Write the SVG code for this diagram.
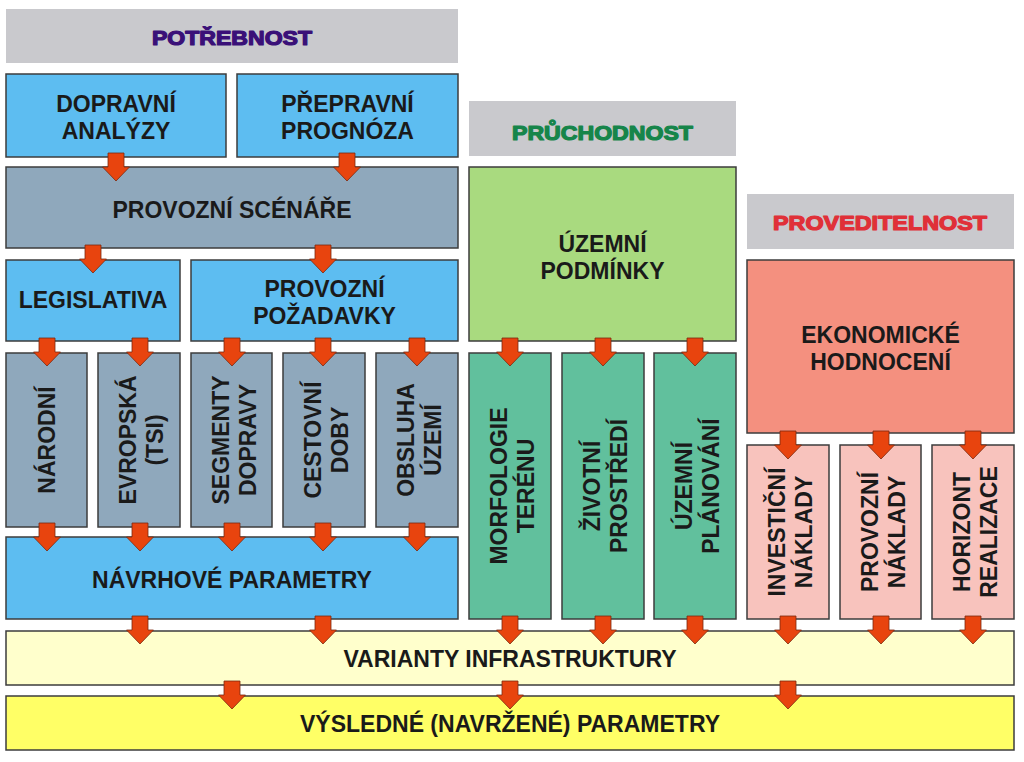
<svg xmlns="http://www.w3.org/2000/svg" xmlns:xlink="http://www.w3.org/1999/xlink" width="1024" height="762" viewBox="0 0 1024 762">
<style>
.b{stroke:#3c3c3c;stroke-width:1.5}
.hdr{fill:#c9c9cd}
.blue{fill:#5dbdf1}
.gb{fill:#8fa8bc}
.lg{fill:#a9da7f}
.tg{fill:#61c09d}
.sal{fill:#f4907f}
.pk{fill:#f8c3bd}
.py{fill:#ffffcc}
.yl{fill:#ffff66}
.t{font-family:"Liberation Sans",Arial,sans-serif;font-weight:bold;font-size:23px;fill:#1a1a1a;text-anchor:middle}
.h{font-family:"Liberation Sans",Arial,sans-serif;font-weight:bold;font-size:19.5px;text-anchor:middle;stroke-width:1.2;stroke-linejoin:round}
.arr{fill:#e8440e;stroke:#7a2a10;stroke-width:0.8}
</style>
<defs>
<path id="a" d="M-8,0 h16 v14 h5.5 l-13.5,14 l-13.5,-14 h5.5 z"/>
</defs>
<rect width="1024" height="762" fill="#ffffff"/>

<g id="potrebnost">
<rect class="hdr" x="6" y="9" width="452" height="54"/>
<text class="h" x="232" y="45" fill="#3a1078" stroke="#3a1078" textLength="160" lengthAdjust="spacingAndGlyphs">POTŘEBNOST</text>
</g>
<g id="pruchodnost">
<rect class="hdr" x="469" y="101" width="267" height="55"/>
<text class="h" x="602.5" y="140" fill="#16854a" stroke="#16854a" textLength="181" lengthAdjust="spacingAndGlyphs">PRŮCHODNOST</text>
</g>
<g id="proveditelnost">
<rect class="hdr" x="747" y="194" width="267" height="55"/>
<text class="h" x="880" y="230" fill="#e03038" stroke="#e03038" textLength="214" lengthAdjust="spacingAndGlyphs">PROVEDITELNOST</text>
</g>

<g id="dopravni-analyzy">
<rect class="b blue" x="6" y="74" width="220" height="83"/>
<text class="t" x="116" y="112">DOPRAVNÍ</text>
<text class="t" x="116" y="139">ANALÝZY</text>
</g>
<g id="prepravni-prognoza">
<rect class="b blue" x="237" y="74" width="221" height="83"/>
<text class="t" x="347.5" y="112">PŘEPRAVNÍ</text>
<text class="t" x="347.5" y="139">PROGNÓZA</text>
</g>
<g id="provozni-scenare">
<rect class="b gb" x="6" y="167" width="452" height="81"/>
<text class="t" x="232" y="218">PROVOZNÍ SCÉNÁŘE</text>
</g>
<g id="legislativa">
<rect class="b blue" x="6" y="260" width="174" height="81"/>
<text class="t" x="93" y="308">LEGISLATIVA</text>
</g>
<g id="provozni-pozadavky">
<rect class="b blue" x="191" y="260" width="267" height="81"/>
<text class="t" x="324.5" y="297">PROVOZNÍ</text>
<text class="t" x="324.5" y="324">POŽADAVKY</text>
</g>

<g id="narodni">
<rect class="b gb" x="6" y="353" width="81" height="174"/>
<text class="t" transform="translate(47,440) rotate(-90)" x="0" y="8">NÁRODNÍ</text>
</g>
<g id="evropska">
<rect class="b gb" x="98" y="353" width="82" height="174"/>
<text class="t" transform="translate(139,440) rotate(-90)" x="0" y="-3">EVROPSKÁ</text>
<text class="t" transform="translate(139,440) rotate(-90)" x="0" y="24">(TSI)</text>
</g>
<g id="segmenty-dopravy">
<rect class="b gb" x="191" y="353" width="81" height="174"/>
<text class="t" transform="translate(231.5,440) rotate(-90)" x="0" y="-3">SEGMENTY</text>
<text class="t" transform="translate(231.5,440) rotate(-90)" x="0" y="24">DOPRAVY</text>
</g>
<g id="cestovni-doby">
<rect class="b gb" x="283" y="353" width="82" height="174"/>
<text class="t" transform="translate(324,440) rotate(-90)" x="0" y="-3">CESTOVNÍ</text>
<text class="t" transform="translate(324,440) rotate(-90)" x="0" y="24">DOBY</text>
</g>
<g id="obsluha-uzemi">
<rect class="b gb" x="376" y="353" width="82" height="174"/>
<text class="t" transform="translate(417,440) rotate(-90)" x="0" y="-3">OBSLUHA</text>
<text class="t" transform="translate(417,440) rotate(-90)" x="0" y="24">ÚZEMÍ</text>
</g>
<g id="navrhove-parametry">
<rect class="b blue" x="6" y="537" width="452" height="82"/>
<text class="t" x="232" y="588">NÁVRHOVÉ PARAMETRY</text>
</g>

<g id="uzemni-podminky">
<rect class="b lg" x="469" y="167" width="267" height="174"/>
<text class="t" x="602.5" y="252">ÚZEMNÍ</text>
<text class="t" x="602.5" y="279">PODMÍNKY</text>
</g>
<g id="morfologie-terenu">
<rect class="b tg" x="469" y="353" width="82" height="266"/>
<text class="t" transform="translate(510,486) rotate(-90)" x="0" y="-3">MORFOLOGIE</text>
<text class="t" transform="translate(510,486) rotate(-90)" x="0" y="24">TERÉNU</text>
</g>
<g id="zivotni-prostredi">
<rect class="b tg" x="562" y="353" width="82" height="266"/>
<text class="t" transform="translate(603,486) rotate(-90)" x="0" y="-3">ŽIVOTNÍ</text>
<text class="t" transform="translate(603,486) rotate(-90)" x="0" y="24">PROSTŘEDÍ</text>
</g>
<g id="uzemni-planovani">
<rect class="b tg" x="654" y="353" width="82" height="266"/>
<text class="t" transform="translate(695,486) rotate(-90)" x="0" y="-3">ÚZEMNÍ</text>
<text class="t" transform="translate(695,486) rotate(-90)" x="0" y="24">PLÁNOVÁNÍ</text>
</g>

<g id="ekonomicke-hodnoceni">
<rect class="b sal" x="747" y="260" width="267" height="173"/>
<text class="t" x="880.5" y="343">EKONOMICKÉ</text>
<text class="t" x="880.5" y="370">HODNOCENÍ</text>
</g>
<g id="investicni-naklady">
<rect class="b pk" x="747" y="445" width="82" height="174"/>
<text class="t" transform="translate(788,532) rotate(-90)" x="0" y="-3">INVESTIČNÍ</text>
<text class="t" transform="translate(788,532) rotate(-90)" x="0" y="24">NÁKLADY</text>
</g>
<g id="provozni-naklady">
<rect class="b pk" x="840" y="445" width="81" height="174"/>
<text class="t" transform="translate(880.5,532) rotate(-90)" x="0" y="-3">PROVOZNÍ</text>
<text class="t" transform="translate(880.5,532) rotate(-90)" x="0" y="24">NÁKLADY</text>
</g>
<g id="horizont-realizace">
<rect class="b pk" x="932" y="445" width="82" height="174"/>
<text class="t" transform="translate(973,532) rotate(-90)" x="0" y="-3">HORIZONT</text>
<text class="t" transform="translate(973,532) rotate(-90)" x="0" y="24">REALIZACE</text>
</g>

<g id="varianty-infrastruktury">
<rect class="b py" x="6" y="631" width="1008" height="54"/>
<text class="t" x="510" y="667">VARIANTY INFRASTRUKTURY</text>
</g>
<g id="vysledne-parametry">
<rect class="b yl" x="6" y="696" width="1008" height="54"/>
<text class="t" x="510" y="732">VÝSLEDNÉ (NAVRŽENÉ) PARAMETRY</text>
</g>

<g id="connectors" class="arr">
<use xlink:href="#a" transform="translate(116,153)"/>
<use xlink:href="#a" transform="translate(347,153)"/>
<use xlink:href="#a" transform="translate(93,245)"/>
<use xlink:href="#a" transform="translate(323,245)"/>
<use xlink:href="#a" transform="translate(47,338)"/>
<use xlink:href="#a" transform="translate(140,338)"/>
<use xlink:href="#a" transform="translate(232,338)"/>
<use xlink:href="#a" transform="translate(323,338)"/>
<use xlink:href="#a" transform="translate(417,338)"/>
<use xlink:href="#a" transform="translate(510,338)"/>
<use xlink:href="#a" transform="translate(603,338)"/>
<use xlink:href="#a" transform="translate(695,338)"/>
<use xlink:href="#a" transform="translate(788,431)"/>
<use xlink:href="#a" transform="translate(881,431)"/>
<use xlink:href="#a" transform="translate(973,431)"/>
<use xlink:href="#a" transform="translate(47,523)"/>
<use xlink:href="#a" transform="translate(140,523)"/>
<use xlink:href="#a" transform="translate(232,523)"/>
<use xlink:href="#a" transform="translate(323,523)"/>
<use xlink:href="#a" transform="translate(417,523)"/>
<use xlink:href="#a" transform="translate(140,616)"/>
<use xlink:href="#a" transform="translate(323,616)"/>
<use xlink:href="#a" transform="translate(510,616)"/>
<use xlink:href="#a" transform="translate(603,616)"/>
<use xlink:href="#a" transform="translate(695,616)"/>
<use xlink:href="#a" transform="translate(788,616)"/>
<use xlink:href="#a" transform="translate(881,616)"/>
<use xlink:href="#a" transform="translate(973,616)"/>
<use xlink:href="#a" transform="translate(232,681)"/>
<use xlink:href="#a" transform="translate(510,681)"/>
<use xlink:href="#a" transform="translate(788,681)"/>
</g>
</svg>
